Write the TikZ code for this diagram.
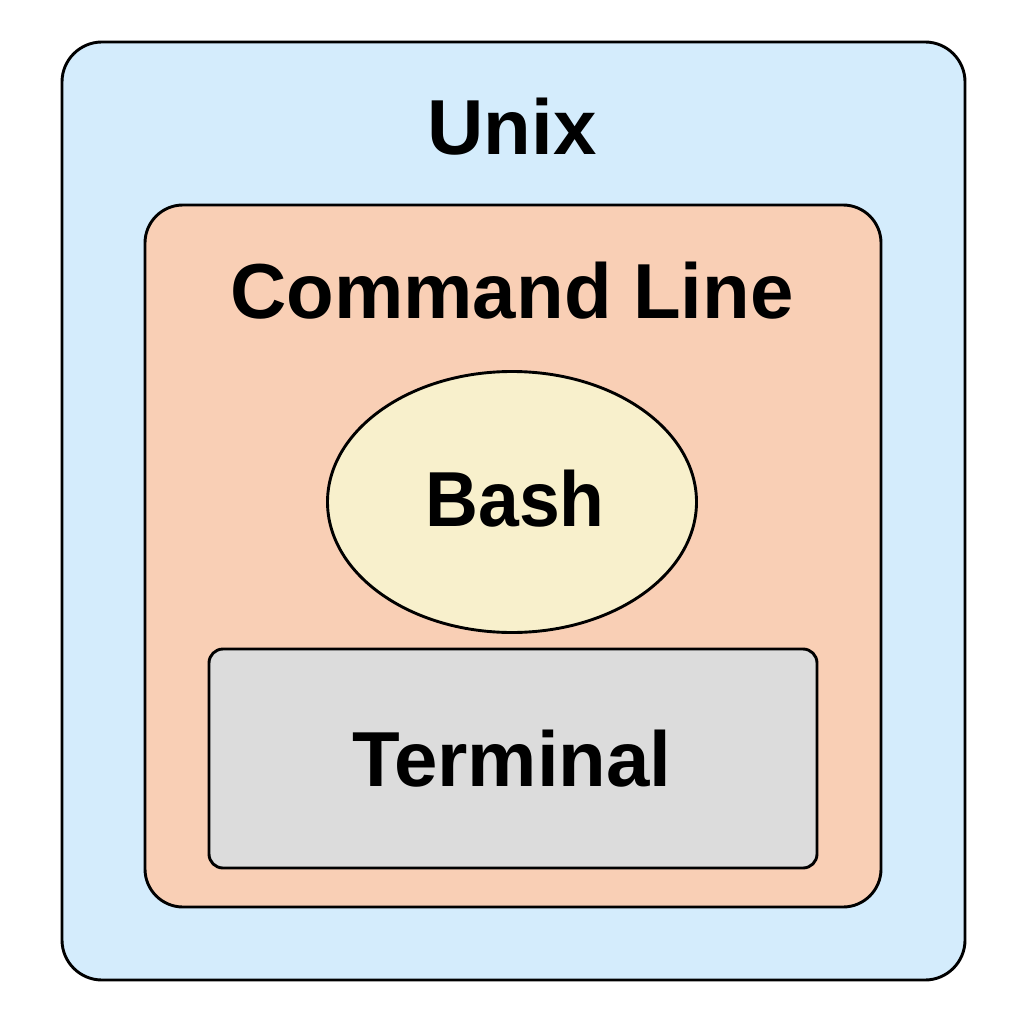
\documentclass[tikz,border=0pt]{standalone}
\usepackage{fontspec}
\setmainfont{Liberation Sans}
\usetikzlibrary{shapes.geometric}
\definecolor{unixblue}{HTML}{D4ECFC}
\definecolor{clpeach}{HTML}{F9CFB5}
\definecolor{bashyellow}{HTML}{F8F0CC}
\definecolor{termgray}{HTML}{DCDCDC}
\tikzset{
  boxline/.style={draw=black, line width=2.9pt},
  lbl/.style={font=\fontsize{78}{80}\selectfont\bfseries, text=black, inner sep=0pt, anchor=base}
}
\begin{document}
\begin{tikzpicture}[x=1pt,y=-1pt]
\useasboundingbox (0,0) rectangle (1024,1024);
\fill[white] (0,0) rectangle (1024,1024);
\draw[boxline, fill=unixblue, rounded corners=40pt] (62,42) rectangle (965,980);
\node[lbl] (unix) at (512,155) {Unix};
\draw[boxline, fill=clpeach, rounded corners=38pt] (145,205) rectangle (881,907);
\node[lbl] (cmd) at (512,318) {Command Line};
\node[boxline, fill=bashyellow, ellipse, minimum width=369pt, minimum height=261pt, inner sep=0pt] (bashE) at (512,502) {};
\node[lbl, xscale=0.94] (bash) at (515,526) {Bash};
\draw[boxline, fill=termgray, rounded corners=14pt] (209,649) rectangle (817,868);
\node[lbl] (term) at (512,786) {Terminal};
\end{tikzpicture}
\end{document}
